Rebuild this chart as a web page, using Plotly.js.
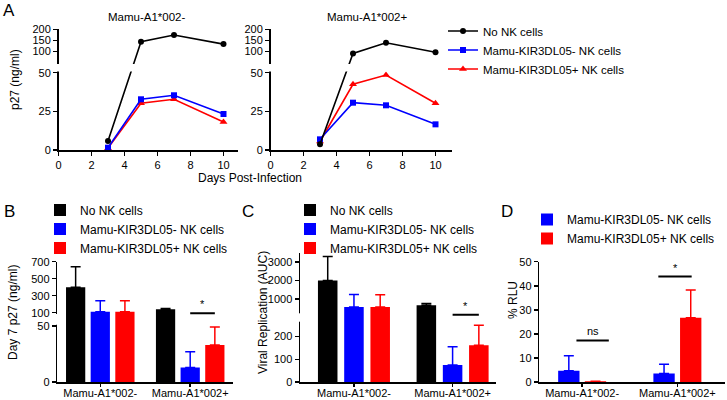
<!DOCTYPE html>
<html>
<head>
<meta charset="utf-8">
<script src="https://cdn.plot.ly/plotly-3.0.1.min.js"></script>
<style>body{margin:0;background:#fff;} #grafico{width:727px;height:400px;}</style>
</head>
<body>
<div id="grafico"></div>
<script>
// ---- datos ----
let nombres = ['No NK cells', 'Mamu-KIR3DL05- NK cells', 'Mamu-KIR3DL05+ NK cells'];
let colores = ['#000000', '#0000ff', '#ff0000'];
let grupos = ['Mamu-A1*002-', 'Mamu-A1*002+'];

// A: p27 (ng/ml) por dia
let dias = [3, 5, 7, 10];
let aNegSinNK = [5.8, 145, 175, 134];
let aNegKirMenos = [1.5, 32.8, 35.4, 23.3];
let aNegKirMas = [1.2, 30.2, 32.8, 18.1];
let aPosSinNK = [3.7, 92, 140, 97];
let aPosKirMenos = [6.9, 30.6, 28.9, 16.6];
let aPosKirMas = [5.5, 42.5, 48.5, 30.2];

// B: Day 7 p27 (ng/ml), media y error
let bSinNK = [400, 140];
let bSinNKErr = [240, 10];
let bKirMenos = [110, 13];
let bKirMenosErr = [130, 14];
let bKirMas = [110, 33];
let bKirMasErr = [130, 16];

// C: Viral Replication (AUC)
let cSinNK = [2000, 660];
let cSinNKErr = [1300, 100];
let cKirMenos = [570, 75];
let cKirMenosErr = [680, 80];
let cKirMas = [570, 162];
let cKirMasErr = [660, 88];

// D: % RLU
let dKirMenos = [4.7, 3.5];
let dKirMenosErr = [6.2, 3.9];
let dKirMas = [0.3, 26.7];
let dKirMasErr = [0, 11.5];

// ---- ejes cortados (como en Prism) ----
let corteA = {lo: 50, up: 50, sLo: 77.3 / 50, gap: 10, sUp: 33.2 / 150};
let corteB = {lo: 50, up: 100, sLo: 56 / 50, gap: 13.3, sUp: 51 / 600};
let corteC = {lo: 260, up: 300, sLo: 59 / 260, gap: 11, sUp: 0.0185};

function corte(c, v) {
	if (!c) return v;
	if (v <= c.lo) return v * c.sLo;
	if (v >= c.up) return c.lo * c.sLo + c.gap + (v - c.up) * c.sUp;
	return c.lo * c.sLo + c.gap * (v - c.lo) / (c.up - c.lo);
}

let fuente = 'Liberation Sans, Arial, sans-serif';
function px(x) { return x / 727; }
function py(y) { return 1 - y / 400; }

// ---- trazas ----
let trazas = [];

function linea(xa, ya, vals, i, mostrar) {
	let simbolos = ['circle', 'square', 'triangle-up'];
	return {
		type: 'scatter', mode: 'lines+markers',
		x: dias, y: vals.map(v => corte(corteA, v)),
		xaxis: xa, yaxis: ya,
		name: nombres[i], legend: 'legend', legendrank: i + 1, showlegend: mostrar,
		line: {color: colores[i], width: 1.6},
		marker: {color: colores[i], symbol: simbolos[i], size: i == 2 ? 7 : 6},
		cliponaxis: false, hoverinfo: 'skip'
	};
}
trazas.push(linea('x', 'y', aNegKirMas, 2, true));
trazas.push(linea('x', 'y', aNegKirMenos, 1, true));
trazas.push(linea('x', 'y', aNegSinNK, 0, true));
trazas.push(linea('x2', 'y2', aPosKirMas, 2, false));
trazas.push(linea('x2', 'y2', aPosKirMenos, 1, false));
trazas.push(linea('x2', 'y2', aPosSinNK, 0, false));

function barra(xa, ya, c, vals, errs, i, leyenda, centro, ancho) {
	return {
		type: 'bar', x: grupos,
		y: vals.map(v => corte(c, v)),
		xaxis: xa, yaxis: ya,
		name: nombres[i], legend: leyenda,
		marker: {color: colores[i], line: {width: 0}},
		offset: centro - ancho / 2, width: ancho,
		error_y: {
			type: 'data', symmetric: false,
			array: vals.map((v, k) => corte(c, v + errs[k]) - corte(c, v)),
			arrayminus: vals.map(() => 0),
			color: colores[i], thickness: 1.5, width: 5
		},
		hoverinfo: 'skip'
	};
}
// B
let pB = 0.274, wB = 0.214;
trazas.push(barra('x3', 'y3', corteB, bSinNK, bSinNKErr, 0, 'legend2', -pB, wB));
trazas.push(barra('x3', 'y3', corteB, bKirMenos, bKirMenosErr, 1, 'legend2', 0, wB));
trazas.push(barra('x3', 'y3', corteB, bKirMas, bKirMasErr, 2, 'legend2', pB, wB));
// C
let pC = 0.266, wC = 0.198;
trazas.push(barra('x4', 'y4', corteC, cSinNK, cSinNKErr, 0, 'legend3', -pC, wC));
trazas.push(barra('x4', 'y4', corteC, cKirMenos, cKirMenosErr, 1, 'legend3', 0, wC));
trazas.push(barra('x4', 'y4', corteC, cKirMas, cKirMasErr, 2, 'legend3', pC, wC));
// D
let pD = 0.28, wD = 0.224;
trazas.push(barra('x5', 'y5', null, dKirMenos, dKirMenosErr, 1, 'legend4', -pD / 2, wD));
trazas.push(barra('x5', 'y5', null, dKirMas, dKirMasErr, 2, 'legend4', pD / 2, wD));

// ---- ejes ----
function ejeBase(extra) {
	return Object.assign({
		showgrid: false, zeroline: false, showline: true,
		linecolor: '#000', linewidth: 1.5,
		ticks: 'outside', ticklen: 4, tickwidth: 1.5, tickcolor: '#000',
		tickfont: {family: fuente, size: 11, color: '#000'},
		fixedrange: true
	}, extra);
}
function ejeYCortado(c, marcas, dominio, tope, ancla) {
	return ejeBase({
		domain: dominio, range: [0, tope], anchor: ancla,
		tickmode: 'array',
		tickvals: marcas.map((m, k) => k < c.nBajo ? m * c.sLo : corte(c, m)),
		ticktext: marcas.map(String)
	});
}

let marcasA = [0, 25, 50, 50, 100, 150, 200];
corteA.nBajo = 3;
let marcasB = [0, 50, 100, 300, 500, 700];
corteB.nBajo = 2;
let marcasC = [0, 100, 200, 1000, 2000, 3000];
corteC.nBajo = 3;

let ejeCat = {type: 'category', ticklen: 3, ticklabelstandoff: -3};

let layout = {
	width: 727, height: 400,
	margin: {l: 0, r: 0, t: 0, b: 0},
	paper_bgcolor: '#fff', plot_bgcolor: '#fff',
	font: {family: fuente, size: 11, color: '#000'},
	barmode: 'overlay',
	xaxis: ejeBase({domain: [px(58.5), px(238)], range: [0, 179.5 / 16.5], dtick: 2, tick0: 0, anchor: 'y'}),
	yaxis: ejeYCortado(corteA, marcasA, [py(150), py(29)], 121, 'x'),
	xaxis2: ejeBase({domain: [px(270.5), px(452)], range: [0, 181.5 / 16.5], dtick: 2, tick0: 0, anchor: 'y2'}),
	yaxis2: ejeYCortado(corteA, marcasA, [py(150), py(29)], 121, 'x2'),
	xaxis3: ejeBase(Object.assign({domain: [px(57.3), px(233)], range: [-0.478, 1.476], anchor: 'y3'}, ejeCat)),
	yaxis3: ejeYCortado(corteB, marcasB, [py(382), py(261.7)], 120.3, 'x3'),
	xaxis4: ejeBase(Object.assign({domain: [px(300), px(496)], range: [-0.547, 1.44], anchor: 'y4'}, ejeCat)),
	yaxis4: ejeYCortado(corteC, marcasC, [py(382), py(253)], 129, 'x4'),
	xaxis5: ejeBase(Object.assign({domain: [px(539.3), px(725)], range: [-0.45, 1.5], anchor: 'y5'}, ejeCat)),
	yaxis5: ejeBase({domain: [py(382), py(261.7)], range: [0, 50], dtick: 10, anchor: 'x5'}),
	legend: {x: px(443), y: py(50), xanchor: 'left', yanchor: 'middle', font: {size: 11.5}, bgcolor: 'rgba(0,0,0,0)'},
	legend2: {x: px(40), y: py(229), xanchor: 'left', yanchor: 'middle', font: {size: 12}, bgcolor: 'rgba(0,0,0,0)'},
	legend3: {x: px(290), y: py(229), xanchor: 'left', yanchor: 'middle', font: {size: 12}, bgcolor: 'rgba(0,0,0,0)'},
	legend4: {x: px(527), y: py(229), xanchor: 'left', yanchor: 'middle', font: {size: 12}, bgcolor: 'rgba(0,0,0,0)'},
	shapes: [],
	annotations: []
};

// huecos del eje cortado
function hueco(xd, ya, c, ancho) {
	let base = c.lo * c.sLo;
	return {type: 'rect', xref: xd, yref: ya, x0: -0.035, x1: ancho,
		y0: base + 1.3, y1: base + c.gap - 1.3,
		fillcolor: '#fff', line: {width: 0}, layer: 'above'};
}
layout.shapes.push(hueco('x domain', 'y', corteA, 1.05));
layout.shapes.push(hueco('x2 domain', 'y2', corteA, 1.05));
layout.shapes.push(hueco('x3 domain', 'y3', corteB, 0.012));
layout.shapes.push(hueco('x4 domain', 'y4', corteC, 0.011));

// lineas de significancia
function signo(xa, ya, x0, x1, y, texto) {
	layout.shapes.push({type: 'line', xref: xa, yref: ya, x0: x0, x1: x1, y0: y, y1: y,
		line: {color: '#000', width: 2}});
	layout.annotations.push({xref: xa, yref: ya, x: (x0 + x1) / 2, y: y, text: texto,
		showarrow: false, yanchor: 'bottom', yshift: 1, font: {size: 11}});
}
signo('x3', 'y3', 1, 1 + pB, corte(corteB, 98), '*');
signo('x4', 'y4', 1, 1 + pC, corte(corteC, 290), '*');
signo('x5', 'y5', -0.06, 0.28, 17.3, 'ns');
signo('x5', 'y5', 0.8, 1.15, 43.8, '*');

// textos
function texto(x, y, t, tam, extra) {
	layout.annotations.push(Object.assign({xref: 'paper', yref: 'paper', x: px(x), y: py(y),
		text: t, showarrow: false, xanchor: 'center', yanchor: 'middle',
		font: {family: fuente, size: tam, color: '#000'}}, extra || {}));
}
texto(9, 11, 'A', 17);
texto(9, 211, 'B', 17);
texto(248, 211, 'C', 17);
texto(507, 211, 'D', 17);
texto(147, 17, 'Mamu-A1*002-', 11.5);
texto(367, 17, 'Mamu-A1*002+', 11.5);
texto(250, 178, 'Days Post-Infection', 12);
texto(15, 80, 'p27 (ng/ml)', 12, {textangle: -90});
texto(13, 313, 'Day 7 p27 (ng/ml)', 12, {textangle: -90});
texto(263, 313, 'Viral Replication (AUC)', 12, {textangle: -90});
texto(513, 300, '% RLU', 12, {textangle: -90});

let contenedor = document.getElementById('grafico');
Plotly.newPlot(contenedor, trazas, layout, {displayModeBar: false, staticPlot: true});
</script>
</body>
</html>
